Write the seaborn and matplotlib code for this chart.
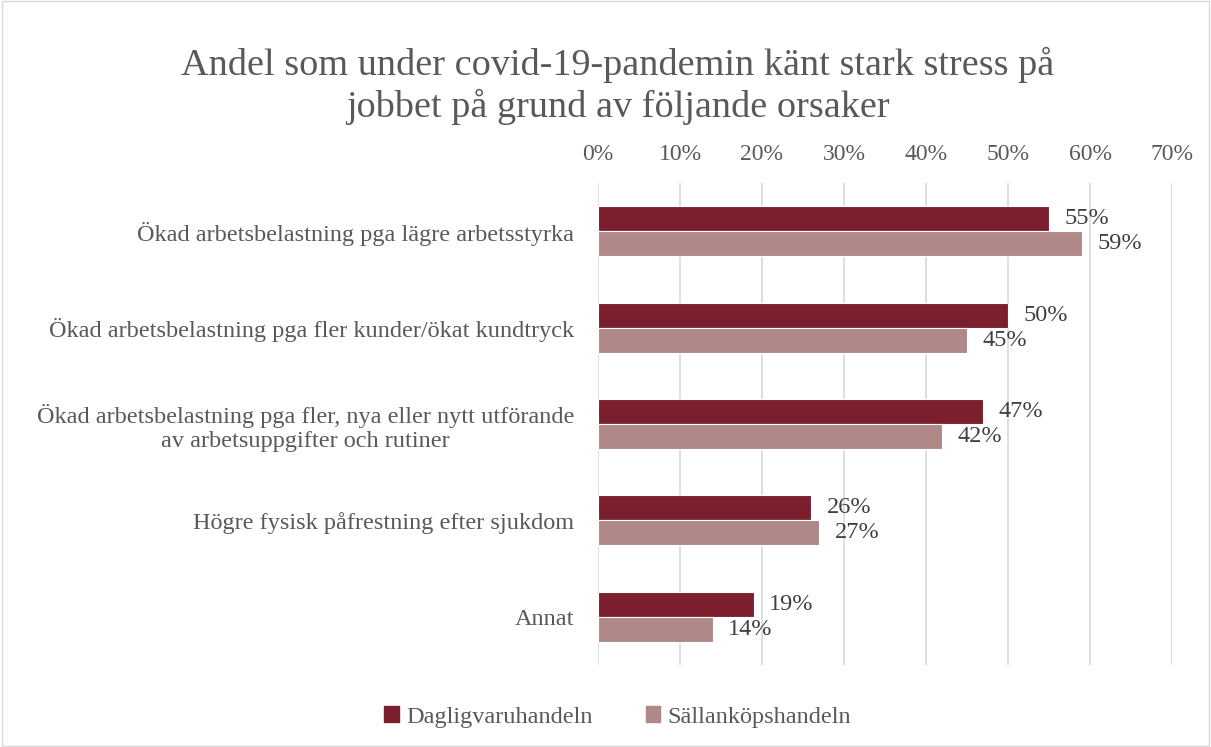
import pandas as pd
import seaborn as sns
import matplotlib.pyplot as plt
from matplotlib.patches import Rectangle
from matplotlib.ticker import PercentFormatter

# data
categories = [
    'Ökad arbetsbelastning pga lägre arbetsstyrka',
    'Ökad arbetsbelastning pga fler kunder/ökat kundtryck',
    'Ökad arbetsbelastning pga fler, nya eller nytt utförande\nav arbetsuppgifter och rutiner',
    'Högre fysisk påfrestning efter sjukdom',
    'Annat',
]
dagligvaru = [55, 50, 47, 26, 19]
sallankop = [59, 45, 42, 27, 14]
series = ['Dagligvaruhandeln', 'Sällanköpshandeln']
colors = ['#7b1f2e', '#b08888']

df = pd.DataFrame({
    'kategori': categories * 2,
    'andel': dagligvaru + sallankop,
    'grupp': [series[0]] * 5 + [series[1]] * 5,
})

sns.set_style('white')
plt.rcParams['font.family'] = ['Liberation Serif', 'DejaVu Serif']
text_col = '#595959'

fig = plt.figure(figsize=(12.11, 7.47), dpi=100)
ax = fig.add_axes([0.4938, 0.1098, 0.4740, 0.6450])

sns.barplot(data=df, x='andel', y='kategori', hue='grupp', orient='h',
            palette=colors, saturation=1, width=0.52, edgecolor='white',
            linewidth=0.8, ax=ax, legend=False)

ax.set_xlim(0, 70)
ax.set_ylim(4.5, -0.5)
ax.set_xticks(range(0, 71, 10))
ax.xaxis.set_major_formatter(PercentFormatter(decimals=0))
ax.xaxis.tick_top()
ax.tick_params(axis='x', length=0, pad=13, labelsize=17, labelcolor=text_col)
ax.tick_params(axis='y', length=0, pad=17, labelsize=17.5, labelcolor=text_col)
for lab in ax.get_yticklabels():
    lab.set_multialignment('center')
ax.set_xlabel('')
ax.set_ylabel('')
ax.grid(axis='x', color='#d9d9d9', linewidth=1.2)
ax.set_axisbelow(True)
for s in ax.spines.values():
    s.set_visible(False)

for cont in ax.containers:
    ax.bar_label(cont, fmt='%d%%', padding=11, fontsize=17.5, color='#404040')

fig.text(0.51, 0.885, 'Andel som under covid-19-pandemin känt stark stress på\njobbet på grund av följande orsaker',
         ha='center', va='center', fontsize=27.5, color=text_col, linespacing=1.2)

handles = [Rectangle((0, 0), 1, 1, color=c) for c in colors]
fig.legend(handles, series, loc='center', bbox_to_anchor=(0.51, 0.04), ncol=2,
           frameon=False, fontsize=17.5, labelcolor=text_col, handlelength=0.6,
           handleheight=0.6, handletextpad=0.3, columnspacing=2.2)

fig.patches.append(Rectangle((0.002, 0.002), 0.996, 0.996, transform=fig.transFigure,
                             fill=False, edgecolor='#d9d9d9', linewidth=1))

fig.savefig('out.png', dpi=100)
